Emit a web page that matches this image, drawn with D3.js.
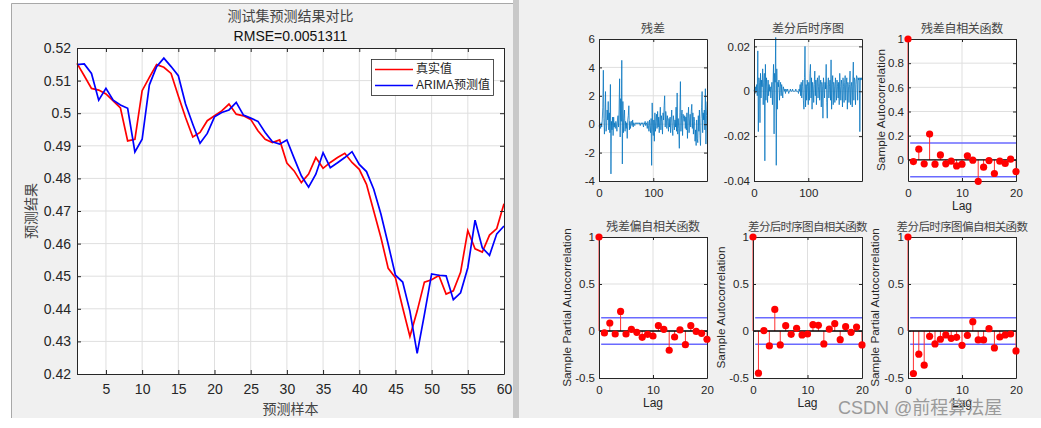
<!DOCTYPE html>
<html><head><meta charset="utf-8">
<script src="https://cdn.jsdelivr.net/npm/d3@7"></script>
<style>body{margin:0;background:#fff}svg{display:block}</style>
</head><body>
<svg id="c" width="1041" height="428"></svg>
<script>
// ---------------- DATA ----------------
const trueVals = [0.5153,0.5115,0.5076,0.5071,0.5059,0.5038,0.5016,0.4915,0.4920,0.5069,
0.5110,0.5149,0.5141,0.5122,0.5053,0.4987,0.4927,0.4941,0.4977,0.4992,
0.5007,0.5028,0.4997,0.4992,0.4981,0.4946,0.4920,0.4910,0.4918,0.4847,
0.4823,0.4787,0.4813,0.4864,0.4831,0.4849,0.4864,0.4877,0.4849,0.4828,
0.4782,0.4700,0.4618,0.4524,0.4495,0.4403,0.4315,0.4393,0.4482,0.4489,
0.4502,0.4445,0.4455,0.4512,0.4640,0.4584,0.4574,0.4626,0.4646,0.4722];
const predVals = [0.5149,0.5151,0.5122,0.5040,0.5076,0.5040,0.5025,0.5015,0.4881,0.4920,
0.5087,0.5143,0.5169,0.5143,0.5115,0.5028,0.4966,0.4908,0.4938,0.4989,
0.5002,0.5010,0.5033,0.4994,0.4985,0.4975,0.4941,0.4912,0.4905,0.4918,
0.4862,0.4808,0.4773,0.4813,0.4879,0.4833,0.4848,0.4864,0.4882,0.4843,
0.4821,0.4767,0.4690,0.4598,0.4503,0.4482,0.4393,0.4263,0.4382,0.4507,
0.4503,0.4501,0.4428,0.4449,0.4526,0.4672,0.4587,0.4564,0.4630,0.4654];
const mainXTicks = [5,10,15,20,25,30,35,40,45,50,55,60];
const mainYTicks = [0.42,0.43,0.44,0.45,0.46,0.47,0.48,0.49,0.50,0.51,0.52];

const residuals = [-0.1,-0.2,-0.1,-0.3,0.1,-0.2,0.3,1.2,3.8,0.4,
-0.7,0.5,2.3,-0.5,-0.2,1.0,0.3,1.6,-0.4,0.8,
-0.6,2.8,-3.5,0.2,-0.4,0.5,-0.8,0.5,-0.2,0.1,
-0.3,0.2,0.0,-0.5,0.3,0.6,-0.2,1.0,3.2,-0.9,
1.8,0.2,4.5,-2.8,1.6,-0.6,0.4,1.0,-0.5,0.2,
-0.3,0.1,-1.0,0.3,0.6,1.3,-0.4,0.2,-0.3,0.1,
0.2,-0.1,0.3,-0.2,0.1,0.0,-0.1,0.1,0.05,0.1,
0.0,0.1,0.05,0.1,0.0,0.1,-0.1,0.05,0.1,0.0,
0.1,0.0,-0.2,0.1,0.0,0.2,-0.1,0.1,0.0,-0.3,
0.2,-0.1,-0.5,0.3,-0.2,-0.6,0.4,-2.9,1.5,-0.4,
-0.8,0.3,-1.2,0.8,-0.5,0.2,0.7,-0.3,0.9,-0.2,
0.5,-0.6,0.3,1.2,-0.4,0.6,0.2,-0.7,0.8,0.3,
1.3,2.0,-0.2,0.9,0.5,-0.3,0.6,0.2,-0.5,0.4,
-0.2,0.5,-0.6,0.3,1.0,-0.3,-0.8,0.6,0.2,-0.4,
0.3,-0.2,1.2,-0.5,2.2,-0.7,0.4,-0.3,-1.7,0.8,
3.0,-0.5,0.6,1.0,-0.8,0.7,0.4,0.2,0.6,-0.3,
0.5,-0.4,0.8,-1.0,0.4,1.2,-0.6,0.3,0.7,-0.2,
0.9,1.4,-0.3,0.8,-0.7,0.5,0.2,-1.2,-0.4,-1.5,
0.3,-1.0,-1.3,0.6,-0.5,1.0,-0.8,-1.5,0.4,1.2,
2.3,-0.6,0.8,0.3,1.0,-0.4,2.5,-1.4,0.6,1.6];
const diffSeries = [0.000,0.001,-0.001,0.002,0.000,0.003,-0.002,0.018,-0.018,0.006,
0.004,-0.014,0.008,-0.003,0.005,0.002,0.010,-0.006,0.004,0.008,
-0.031,0.012,-0.004,0.006,0.002,-0.005,0.005,-0.002,0.003,0.000,
0.002,-0.003,0.001,0.004,-0.006,0.003,0.012,-0.019,0.008,0.004,
0.024,-0.033,0.010,-0.008,0.004,0.002,0.005,-0.004,0.002,0.004,
-0.002,0.003,0.000,-0.003,0.002,0.001,0.000,0.001,-0.001,0.001,
0.000,0.000,0.001,0.000,-0.001,0.000,0.000,0.001,0.000,0.000,
0.000,0.001,0.000,0.000,0.000,0.000,0.000,0.001,0.000,0.000,
0.000,0.000,-0.001,0.001,0.000,0.003,-0.002,0.004,-0.003,0.002,
0.005,-0.004,-0.008,0.006,0.020,-0.007,0.003,-0.004,0.005,0.002,
-0.006,0.004,-0.004,0.008,0.012,-0.003,0.006,-0.008,0.004,0.002,
-0.005,0.003,0.009,-0.002,0.005,-0.006,0.004,0.006,-0.003,0.002,
0.007,-0.004,0.003,0.005,-0.007,0.004,0.002,-0.012,0.006,0.003,
-0.003,0.004,0.001,0.012,-0.005,-0.012,0.003,0.006,-0.003,0.002,
0.005,-0.004,0.014,-0.008,0.003,0.007,-0.006,0.004,0.002,-0.005,
0.006,0.003,-0.004,0.005,0.002,-0.003,0.004,-0.006,0.008,0.002,
-0.004,0.005,0.003,-0.007,0.006,0.002,-0.005,0.004,0.007,-0.004,
0.003,0.006,-0.008,0.004,0.002,-0.005,0.003,0.009,-0.006,0.002,
0.004,-0.007,0.005,0.013,-0.004,0.006,0.005,-0.006,0.003,0.007,
0.006,-0.004,0.006,0.005,0.006,-0.018,0.006,0.005,0.006,0.005];

const lags = [0,1,2,3,4,5,6,7,8,9,10,11,12,13,14,15,16,17,18,19,20];
const resACF = [1,-0.014,0.088,-0.033,0.213,-0.036,0.041,-0.033,-0.011,-0.050,-0.036,0.033,-0.003,-0.178,-0.061,-0.006,-0.113,-0.011,-0.030,0.006,-0.097];
const resPACF = [1,-0.021,0.085,-0.032,0.208,-0.032,0.018,-0.014,-0.067,-0.035,-0.053,0.057,0.018,-0.205,-0.064,0.011,-0.145,0.057,-0.004,-0.025,-0.088];
const diffACF = [1,-0.449,0.004,-0.159,0.230,-0.148,0.057,-0.035,0.028,-0.042,-0.032,0.067,0.060,-0.138,0.021,0.078,-0.092,0.046,-0.014,0.042,-0.148];
const diffPACF = [1,-0.452,-0.247,-0.364,-0.057,-0.138,-0.088,-0.042,-0.078,-0.067,-0.152,-0.046,0.099,-0.095,-0.095,0.025,-0.180,-0.064,-0.042,-0.032,-0.212];
const confBound = 0.14;

// ---------------- DRAW ----------------
const svg = d3.select('#c');
const LAT = '"Liberation Sans", Arial, "Noto Sans CJK SC", sans-serif';
const CJK = '"Noto Sans CJK SC", sans-serif';
const fmt = d => String(+d.toFixed(3));

// window backgrounds
svg.append('rect').attr('x',11).attr('y',3).attr('width',502).attr('height',415).attr('fill','#f0f0f0');
svg.append('path').attr('d','M11.5,418V3.5H513').attr('fill','none').attr('stroke','#a8a8a8');
svg.append('rect').attr('x',513).attr('y',0).attr('width',6).attr('height',418).attr('fill','#c8c8c8');
svg.append('rect').attr('x',519).attr('y',0).attr('width',522).attr('height',418).attr('fill','#f0f0f0');

function frame(x, y, xt, yt) {
  const [xa, xb] = x.range(), [ya, yb] = y.range();
  const g = svg.append('g');
  g.append('rect').attr('x',xa).attr('y',yb).attr('width',xb-xa).attr('height',ya-yb).attr('fill','#fff');
  const xd = x.domain(), yd = y.domain();
  const xg = xt.filter(v => v > xd[0] && v < xd[1]);
  const yg = yt.filter(v => v > yd[0] && v < yd[1]);
  g.selectAll(null).data(xg).join('line')
    .attr('x1',d=>x(d)).attr('x2',d=>x(d)).attr('y1',yb).attr('y2',ya)
    .attr('stroke','#dfdfdf').attr('stroke-width',1);
  g.selectAll(null).data(yg).join('line')
    .attr('y1',d=>y(d)).attr('y2',d=>y(d)).attr('x1',xa).attr('x2',xb)
    .attr('stroke','#dfdfdf').attr('stroke-width',1);
  return g;
}
function axes(x, y, xt, yt, o) {
  const [xa, xb] = x.range(), [ya, yb] = y.range();
  const g = svg.append('g');
  const tk = o.tick;
  const style = s => {
    s.select('.domain').attr('stroke','#262626').attr('stroke-width',1);
    s.selectAll('.tick line').attr('stroke','#262626');
    s.selectAll('text').attr('fill','#262626').attr('font-family',LAT).attr('font-size',o.fs);
  };
  g.append('g').attr('transform',`translate(0,${ya})`)
    .call(d3.axisBottom(x).tickValues(xt).tickSize(-tk).tickSizeOuter(0).tickPadding(o.xpad).tickFormat(fmt)).call(style);
  g.append('g').attr('transform',`translate(0,${yb})`)
    .call(d3.axisTop(x).tickValues(xt).tickSize(-tk).tickSizeOuter(0).tickFormat('')).call(style);
  g.append('g').attr('transform',`translate(${xa},0)`)
    .call(d3.axisLeft(y).tickValues(yt).tickSize(-tk).tickSizeOuter(0).tickPadding(o.ypad).tickFormat(fmt)).call(style);
  g.append('g').attr('transform',`translate(${xb},0)`)
    .call(d3.axisRight(y).tickValues(yt).tickSize(-tk).tickSizeOuter(0).tickFormat('')).call(style);
  return g;
}
function txt(x, y, s, o = {}) {
  const t = svg.append('text').attr('x',x).attr('y',y).text(s)
    .attr('font-family',o.ff || LAT).attr('font-size',o.fs || 12)
    .attr('fill',o.fill || '#262626').attr('text-anchor',o.anchor || 'middle')
    .attr('dominant-baseline','middle');
  if (o.ls) t.attr('letter-spacing', o.ls);
  if (o.rot) t.attr('transform',`rotate(-90,${x},${y})`);
  return t;
}

// ---------- main chart ----------
{
  const x = d3.scaleLinear().domain([1,60]).range([77,504]);
  const y = d3.scaleLinear().domain([0.42,0.52]).range([374,48]);
  const g = frame(x, y, mainXTicks, mainYTicks);
  const line = d3.line().x((d,i)=>x(i+1)).y(d=>y(d));
  g.append('path').datum(trueVals).attr('d',line).attr('fill','none').attr('stroke','#ff0000').attr('stroke-width',1.7);
  g.append('path').datum(predVals).attr('d',line).attr('fill','none').attr('stroke','#0000ff').attr('stroke-width',1.7);
  axes(x, y, mainXTicks, mainYTicks, {tick:4, fs:14, xpad:10, ypad:6});
  // legend
  svg.append('rect').attr('x',371.5).attr('y',59.5).attr('width',122).attr('height',36).attr('fill','#fff').attr('stroke','#262626').attr('stroke-width',0.8);
  svg.append('line').attr('x1',375).attr('x2',413).attr('y1',69.5).attr('y2',69.5).attr('stroke','#ff0000').attr('stroke-width',1.7);
  svg.append('line').attr('x1',375).attr('x2',413).attr('y1',85.5).attr('y2',85.5).attr('stroke','#0000ff').attr('stroke-width',1.7);
  txt(416, 69.5, '真实值', {fs:12, anchor:'start'});
  txt(416, 85.5, 'ARIMA预测值', {fs:12, anchor:'start'});
  txt(290.5, 17, '测试集预测结果对比', {ff:CJK, fs:14, fill:'#444'});
  txt(290.5, 37, 'RMSE=0.0051311', {fs:14, fill:'#111'});
  txt(290.5, 410, '预测样本', {ff:CJK, fs:14, fill:'#444'});
  txt(32, 211, '预测结果', {ff:CJK, fs:14, fill:'#444', rot:true});
}

// ---------- time-series subplots ----------
function seriesPlot(data, xr, yr, yDom, yt, title) {
  const x = d3.scaleLinear().domain([0,199]).range(xr);
  const y = d3.scaleLinear().domain(yDom).range(yr);
  const xt = [0,100];
  const g = frame(x, y, xt, yt);
  g.append('path').datum(data).attr('d', d3.line().x((d,i)=>x(i)).y(d=>y(d)))
    .attr('fill','none').attr('stroke','#0072BD').attr('stroke-width',0.75);
  axes(x, y, xt, yt, {tick:3, fs:11.5, xpad:8, ypad:4});
  txt((xr[0]+xr[1])/2, yr[1]-9, title, {ff:CJK, fs:12, fill:'#444'});
}
seriesPlot(residuals, [599,707], [181,39], [-4,6], [-4,-2,0,2,4,6], '残差');
seriesPlot(diffSeries, [754,862], [181,39], [-0.04,0.0233], [-0.04,-0.02,0,0.02], '差分后时序图');

// ---------- stem (ACF/PACF) subplots ----------
function stemPlot(vals, xr, yr, yDom, yt, title, ylab, ylabX, titleFs, ls) {
  const x = d3.scaleLinear().domain([0,20]).range(xr);
  const y = d3.scaleLinear().domain(yDom).range(yr);
  const xt = [0,10,20];
  const g = frame(x, y, xt, yt);
  g.append('line').attr('x1',x(0.4)).attr('x2',x(20)).attr('y1',y(confBound)).attr('y2',y(confBound)).attr('stroke','#6a6aff').attr('stroke-width',1.5);
  g.append('line').attr('x1',x(0.4)).attr('x2',x(20)).attr('y1',y(-confBound)).attr('y2',y(-confBound)).attr('stroke','#6a6aff').attr('stroke-width',1.5);
  g.selectAll(null).data(vals).join('line')
    .attr('x1',(d,i)=>x(lags[i])).attr('x2',(d,i)=>x(lags[i]))
    .attr('y1',y(0)).attr('y2',d=>y(d)).attr('stroke','#ff3030').attr('stroke-width',1);
  g.append('line').attr('x1',x(0)).attr('x2',x(20)).attr('y1',y(0)).attr('y2',y(0)).attr('stroke','#000').attr('stroke-width',1.3);
  axes(x, y, xt, yt, {tick:3, fs:11.5, xpad:8, ypad:4});
  svg.append('g').selectAll(null).data(vals).join('circle')
    .attr('cx',(d,i)=>x(lags[i])).attr('cy',d=>y(d)).attr('r',3.6).attr('fill','#ff0000');
  const cx = (xr[0]+xr[1])/2;
  txt(cx, yr[1]-9, title, {ff:CJK, fs:titleFs || 12, fill:'#444', ls:ls || -0.3});
  txt(cx, yr[0]+26, 'Lag', {fs:12});
  txt(ylabX, (yr[0]+yr[1])/2, ylab, {fs:11.8, rot:true});
}
stemPlot(resACF, [908,1016], [181,39], [-0.175,1], [0,0.2,0.4,0.6,0.8,1], '残差自相关函数', 'Sample Autocorrelation', 882);
stemPlot(resPACF, [599,707], [378,237], [-0.5,1], [-0.5,0,0.5,1], '残差偏自相关函数', 'Sample Partial Autocorrelation', 568);
stemPlot(diffACF, [753,862], [378,237], [-0.5,1], [-0.5,0,0.5,1], '差分后时序图自相关函数', 'Sample Autocorrelation', 722, 11.5, -0.7);
stemPlot(diffPACF, [908,1016], [378,237], [-0.5,1], [-0.5,0,0.5,1], '差分后时序图偏自相关函数', 'Sample Partial Autocorrelation', 876, 11.5, -0.6);

// watermark
txt(838, 409, 'CSDN @前程算法屋', {fs:18, fill:'#9a9a9a', anchor:'start'});
</script>
</body></html>
